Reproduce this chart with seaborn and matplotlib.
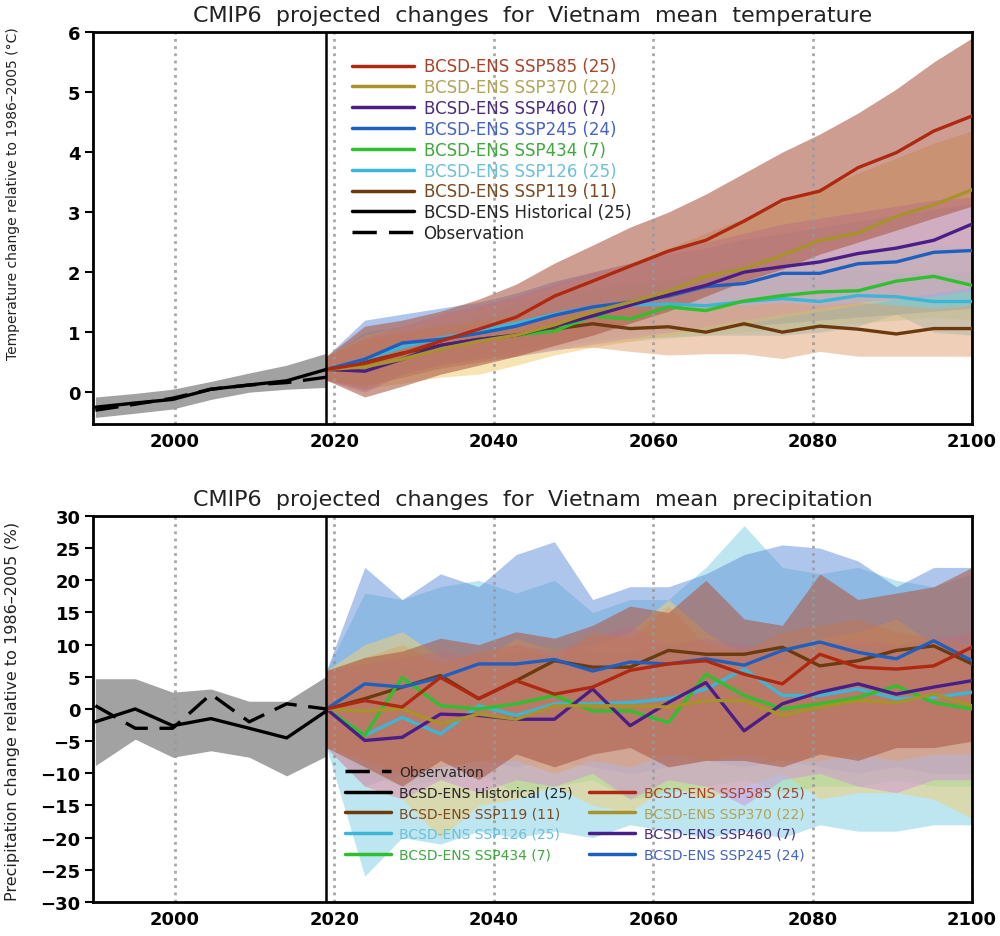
import matplotlib.lines as mlines
import matplotlib.pyplot as plt
import seaborn as sns

# --- time axes -------------------------------------------------------------
HIST_YEARS = [1990, 1995, 1999.7, 2004.5, 2009.3, 2014, 2019]
PROJ_YEARS = [2019, 2023.8, 2028.5, 2033.3, 2038.1, 2042.8, 2047.6, 2052.4, 2057.1,
              2061.9, 2066.6, 2071.4, 2076.2, 2080.9, 2085.7, 2090.5, 2095.2, 2100]
X_TICKS = [2000, 2020, 2040, 2060, 2080, 2100]
SPLIT_YEAR = 2019

SCENARIOS = ["SSP585", "SSP370", "SSP460", "SSP245", "SSP434", "SSP126", "SSP119"]
MEMBERS = {"SSP585": 25, "SSP370": 22, "SSP460": 7, "SSP245": 24,
           "SSP434": 7, "SSP126": 25, "SSP119": 11}
HIST_MEMBERS = 25

LINE_COLORS = {
    "SSP585": "#b0280f", "SSP370": "#a8922a", "SSP460": "#4a1e88", "SSP245": "#1f5fc0",
    "SSP434": "#2fbf2f", "SSP126": "#3cb6d6", "SSP119": "#6b3a0e",
}
TEXT_COLORS = {
    "SSP585": "#a8442c", "SSP370": "#b0a458", "SSP460": "#4c2c7c", "SSP245": "#4464c0",
    "SSP434": "#3fa83f", "SSP126": "#6cc0d8", "SSP119": "#7a4a22",
}
BAND_COLORS = {
    "SSP585": "#ac5c48", "SSP370": "#f0cf78", "SSP460": "#d092d8", "SSP245": "#5e8ed8",
    "SSP434": "#9ad88a", "SSP126": "#92d6e6", "SSP119": "#e0a070",
}
BAND_ALPHA = {
    "SSP585": 0.6, "SSP370": 0.55, "SSP460": 0.5, "SSP245": 0.5,
    "SSP434": 0.35, "SSP126": 0.6, "SSP119": 0.5,
}

# --- temperature (degC, relative to 1986-2005) ---------------------------
TAS_HIST = [-0.25, -0.18, -0.12, 0.05, 0.12, 0.19, 0.38]
TAS_HIST_LO = [-0.42, -0.35, -0.28, -0.12, 0.0, 0.05, 0.08]
TAS_HIST_HI = [-0.08, -0.02, 0.05, 0.18, 0.32, 0.45, 0.65]
TAS_OBS = [-0.30, -0.20, -0.10, 0.05, 0.12, 0.16, 0.25]

TAS_SSP585 = [0.38, 0.48, 0.64, 0.85, 1.05, 1.25, 1.6, 1.85, 2.1, 2.35, 2.53, 2.85, 3.2, 3.35, 3.74, 3.99, 4.35, 4.6]
TAS_SSP370 = [0.38, 0.42, 0.55, 0.72, 0.85, 0.95, 1.12, 1.34, 1.5, 1.68, 1.93, 2.06, 2.28, 2.53, 2.65, 2.93, 3.12, 3.37]
TAS_SSP460 = [0.38, 0.35, 0.55, 0.78, 0.88, 0.95, 1.1, 1.27, 1.45, 1.62, 1.78, 2.0, 2.09, 2.17, 2.31, 2.4, 2.53, 2.8]
TAS_SSP245 = [0.38, 0.55, 0.82, 0.88, 0.98, 1.1, 1.28, 1.42, 1.5, 1.6, 1.76, 1.81, 1.98, 1.98, 2.14, 2.17, 2.33, 2.36]
TAS_SSP434 = [0.38, 0.42, 0.55, 0.75, 0.88, 0.95, 1.02, 1.27, 1.22, 1.42, 1.36, 1.52, 1.61, 1.67, 1.69, 1.85, 1.93, 1.78]
TAS_SSP126 = [0.38, 0.55, 0.75, 0.9, 1.02, 1.15, 1.3, 1.42, 1.45, 1.47, 1.44, 1.51, 1.56, 1.51, 1.61, 1.59, 1.51, 1.51]
TAS_SSP119 = [0.38, 0.5, 0.65, 0.78, 0.88, 0.95, 1.05, 1.14, 1.06, 1.09, 1.0, 1.14, 1.0, 1.1, 1.05, 0.97, 1.06, 1.06]

TAS_SSP585_LO = [0.2, -0.08, 0.1, 0.3, 0.45, 0.6, 0.78, 0.95, 1.15, 1.35, 1.6, 1.85, 2.05, 2.3, 2.5, 2.7, 2.9, 3.1]
TAS_SSP585_HI = [0.6, 1.1, 1.2, 1.35, 1.55, 1.8, 2.15, 2.45, 2.75, 3.0, 3.3, 3.65, 4.0, 4.3, 4.65, 5.05, 5.5, 5.9]
TAS_SSP370_LO = [0.2, 0.05, 0.15, 0.25, 0.3, 0.45, 0.62, 0.75, 0.85, 0.95, 1.05, 1.15, 1.25, 1.35, 1.45, 1.55, 1.65, 1.75]
TAS_SSP370_HI = [0.6, 0.95, 1.1, 1.25, 1.4, 1.55, 1.75, 1.95, 2.15, 2.4, 2.65, 2.9, 3.15, 3.4, 3.65, 3.9, 4.15, 4.35]
TAS_SSP460_LO = [0.2, 0.0, 0.3, 0.45, 0.55, 0.6, 0.7, 0.8, 0.9, 1.0, 1.1, 1.2, 1.3, 1.4, 1.5, 1.55, 1.6, 1.7]
TAS_SSP460_HI = [0.6, 0.9, 1.1, 1.3, 1.45, 1.6, 1.8, 2.0, 2.15, 2.35, 2.5, 2.65, 2.8, 2.9, 3.0, 3.1, 3.2, 3.25]
TAS_SSP245_LO = [0.2, 0.05, 0.3, 0.45, 0.55, 0.65, 0.75, 0.85, 0.95, 1.0, 1.05, 1.1, 1.15, 1.2, 1.25, 1.3, 1.35, 1.4]
TAS_SSP245_HI = [0.6, 1.2, 1.3, 1.4, 1.5, 1.65, 1.85, 2.0, 2.15, 2.3, 2.4, 2.55, 2.65, 2.75, 2.85, 2.95, 3.05, 3.15]
TAS_SSP434_LO = [0.2, 0.1, 0.25, 0.4, 0.5, 0.6, 0.7, 0.8, 0.85, 0.9, 0.95, 1.0, 1.05, 1.1, 1.15, 1.2, 1.25, 1.2]
TAS_SSP434_HI = [0.6, 0.85, 1.0, 1.15, 1.3, 1.45, 1.55, 1.7, 1.8, 1.9, 2.0, 2.1, 2.2, 2.25, 2.3, 2.4, 2.45, 2.4]
TAS_SSP126_LO = [0.2, 0.15, 0.35, 0.5, 0.6, 0.7, 0.8, 0.85, 0.9, 0.92, 0.95, 0.95, 0.95, 1.0, 1.1, 1.3, 1.0, 0.95]
TAS_SSP126_HI = [0.6, 1.0, 1.1, 1.25, 1.4, 1.55, 1.65, 1.75, 1.8, 1.85, 1.9, 1.95, 2.0, 2.0, 2.05, 2.0, 2.0, 2.0]
TAS_SSP119_LO = [0.2, 0.1, 0.25, 0.4, 0.5, 0.6, 0.72, 0.75, 0.68, 0.62, 0.64, 0.64, 0.56, 0.68, 0.6, 0.6, 0.6, 0.6]
TAS_SSP119_HI = [0.6, 0.9, 1.0, 1.1, 1.2, 1.3, 1.35, 1.4, 1.45, 1.5, 1.45, 1.45, 1.5, 1.45, 1.5, 1.45, 1.4, 1.45]

# --- precipitation (%, relative to 1986-2005) -----------------------------
PR_HIST = [-2.0, 0.0, -2.6, -1.5, -3.0, -4.5, -0.3]
PR_HIST_LO = [-8.8, -4.7, -7.5, -6.5, -7.5, -10.4, -7.3]
PR_HIST_HI = [4.7, 4.7, 2.6, 3.1, 1.2, 1.2, 5.1]
PR_OBS = [0.5, -3.0, -3.0, 2.3, -2.0, 0.8, 0.0]

PR_SSP585 = [0.0, 1.3, 0.3, 4.9, 1.6, 4.4, 2.3, 3.4, 6.0, 7.0, 7.5, 5.4, 3.9, 8.5, 6.5, 6.2, 6.7, 9.6]
PR_SSP370 = [0.0, -0.3, 0.0, -2.3, -0.8, -1.6, 0.5, 0.5, 0.5, 0.3, 1.3, 1.3, -1.0, 0.3, 1.3, 1.0, 2.3, 0.5]
PR_SSP460 = [0.0, -4.9, -4.4, -0.8, -1.0, -1.6, -1.6, 3.1, -2.6, 1.0, 4.1, -3.4, 0.8, 2.6, 3.9, 2.3, 3.4, 4.4]
PR_SSP245 = [0.0, 3.9, 3.4, 4.9, 7.0, 7.0, 7.7, 5.9, 7.3, 7.0, 7.8, 6.8, 9.1, 10.4, 8.8, 7.8, 10.6, 7.5]
PR_SSP434 = [0.0, -4.1, 4.9, 0.5, 0.0, 0.8, 2.1, -0.3, -0.3, -2.1, 5.4, 2.1, 0.0, 0.8, 1.8, 3.6, 1.0, 0.0]
PR_SSP126 = [0.0, -4.1, -1.3, -3.9, 0.5, -1.0, 0.8, 0.8, 1.0, 1.6, 3.1, 6.2, 2.1, 2.1, 3.1, 1.6, 1.8, 2.6]
PR_SSP119 = [0.0, 1.6, 3.4, 5.2, 1.6, 4.4, 7.5, 6.5, 6.5, 9.1, 8.5, 8.5, 9.6, 6.7, 7.5, 9.1, 9.8, 7.0]

PR_SSP585_LO = [-6, -9, -12, -8, -11, -7, -9, -7, -6, -9, -8, -8, -9, -7, -8, -6, -6, -5]
PR_SSP585_HI = [6, 8, 9, 11, 10, 12, 11, 13, 16, 15, 20, 14, 13, 21, 17, 18, 19, 22]
PR_SSP370_LO = [-6, -12, -14, -20, -15, -14, -12, -15, -16, -12, -14, -12, -10, -14, -13, -13, -14, -17]
PR_SSP370_HI = [6, 10, 12, 8, 7, 11, 9, 10, 12, 17, 12, 8, 7, 11, 12, 14, 10, 8]
PR_SSP460_LO = [-6, -12, -14, -11, -13, -11, -12, -10, -14, -11, -12, -15, -11, -10, -12, -13, -11, -11]
PR_SSP460_HI = [6, 7, 8, 9, 8, 10, 9, 11, 13, 10, 11, 10, 9, 10, 11, 10, 11, 12]
PR_SSP245_LO = [-6, -12, -10, -9, -8, -9, -8, -9, -10, -9, -8, -9, -8, -9, -10, -9, -10, -10]
PR_SSP245_HI = [6, 22, 17, 21, 19, 24, 26, 17, 19, 19, 21, 24, 25.5, 25, 23, 19, 22, 22]
PR_SSP434_LO = [-6, -10, -12, -11, -10, -13, -12, -11, -14, -13, -12, -11, -13, -12, -12, -11, -12, -12]
PR_SSP434_HI = [6, 8, 10, 9, 8, 9, 10, 9, 9, 10, 11, 9, 10, 10, 10, 11, 10, 9]
PR_SSP126_LO = [-6, -26, -20, -21, -19, -20, -19, -20, -18, -19, -20, -19, -20, -18, -19, -19, -18, -18]
PR_SSP126_HI = [6, 18, 17, 19, 20, 18, 20, 15, 17, 17, 22, 28.5, 22, 21, 22, 20, 19, 21]
PR_SSP119_LO = [-6, -8, -10, -9, -8, -8, -10, -8, -9, -7, -8, -7, -8, -8, -7, -8, -7, -7]
PR_SSP119_HI = [6, 8, 10, 7, 9, 10, 8, 12, 11, 16, 10, 9, 12, 13, 14, 12, 11, 10]

TAS = {
    "SSP585": (TAS_SSP585, TAS_SSP585_LO, TAS_SSP585_HI),
    "SSP370": (TAS_SSP370, TAS_SSP370_LO, TAS_SSP370_HI),
    "SSP460": (TAS_SSP460, TAS_SSP460_LO, TAS_SSP460_HI),
    "SSP245": (TAS_SSP245, TAS_SSP245_LO, TAS_SSP245_HI),
    "SSP434": (TAS_SSP434, TAS_SSP434_LO, TAS_SSP434_HI),
    "SSP126": (TAS_SSP126, TAS_SSP126_LO, TAS_SSP126_HI),
    "SSP119": (TAS_SSP119, TAS_SSP119_LO, TAS_SSP119_HI),
}
PR = {
    "SSP585": (PR_SSP585, PR_SSP585_LO, PR_SSP585_HI),
    "SSP370": (PR_SSP370, PR_SSP370_LO, PR_SSP370_HI),
    "SSP460": (PR_SSP460, PR_SSP460_LO, PR_SSP460_HI),
    "SSP245": (PR_SSP245, PR_SSP245_LO, PR_SSP245_HI),
    "SSP434": (PR_SSP434, PR_SSP434_LO, PR_SSP434_HI),
    "SSP126": (PR_SSP126, PR_SSP126_LO, PR_SSP126_HI),
    "SSP119": (PR_SSP119, PR_SSP119_LO, PR_SSP119_HI),
}

BAND_ORDER = ["SSP126", "SSP245", "SSP370", "SSP434", "SSP460", "SSP119", "SSP585"]
LINE_ORDER = ["SSP119", "SSP126", "SSP434", "SSP245", "SSP460", "SSP370", "SSP585"]
OBS_DASH = (7, 3.5)


def _label(s):
    return f"BCSD-ENS {s} ({MEMBERS[s]})"


def draw_panel(ax, data, hist, hist_lo, hist_hi, obs, ylim, yticks, title):
    ax.fill_between(HIST_YEARS, hist_lo, hist_hi, color="#a2a2a2", lw=0, zorder=1)
    for s in BAND_ORDER:
        _, lo, hi = data[s]
        ax.fill_between(PROJ_YEARS, lo, hi, color=BAND_COLORS[s], alpha=BAND_ALPHA[s],
                        lw=0, zorder=1)

    for yr in X_TICKS:
        ax.axvline(yr, color="#999999", ls=(0, (1, 1.6)), lw=2.0, alpha=0.85, zorder=2)
    ax.axvline(SPLIT_YEAR, color="black", lw=1.8, zorder=5)

    for s in LINE_ORDER:
        sns.lineplot(x=PROJ_YEARS, y=data[s][0], ax=ax, color=LINE_COLORS[s],
                     lw=2.4, legend=False, zorder=4)
    sns.lineplot(x=HIST_YEARS, y=hist, ax=ax, color="black", lw=2.4, legend=False, zorder=4)
    sns.lineplot(x=HIST_YEARS, y=obs, ax=ax, color="black", lw=2.4, legend=False,
                 zorder=4).lines[-1].set_dashes(OBS_DASH)

    ax.set_xlim(1989.7, 2100)
    ax.set_ylim(*ylim)
    ax.set_xticks(X_TICKS)
    ax.set_yticks(yticks)
    ax.set_xticklabels([str(t) for t in X_TICKS], fontsize=13, fontweight="bold")
    ax.set_yticklabels([f"{t:g}".replace("-", "\u2212") for t in yticks],
                       fontsize=13, fontweight="bold")
    ax.tick_params(axis="x", length=0, pad=6, colors="black")
    ax.tick_params(axis="y", length=6, width=1.5, direction="out", pad=3, colors="black")
    for sp in ax.spines.values():
        sp.set_linewidth(2)
        sp.set_color("black")
        sp.set_visible(True)
    ax.set_xlabel("")
    ax.set_title(title, fontsize=16, pad=8, color="#222222")


sns.set_style("ticks")
plt.rcParams["font.family"] = ["DejaVu Sans"]

fig = plt.figure(figsize=(10, 9.37), dpi=100)
ax1 = fig.add_axes([0.093, 0.5464, 0.879, 0.4184])
ax2 = fig.add_axes([0.093, 0.0363, 0.879, 0.412])

draw_panel(ax1, TAS, TAS_HIST, TAS_HIST_LO, TAS_HIST_HI, TAS_OBS, (-0.53, 6),
           [0, 1, 2, 3, 4, 5, 6], "CMIP6  projected  changes  for  Vietnam  mean  temperature")
ax1.set_ylabel("Temperature change relative to 1986\u20132005 (\u00b0C)", fontsize=10, color="#222222")
ax1.yaxis.set_label_coords(-0.083, 0.59)

draw_panel(ax2, PR, PR_HIST, PR_HIST_LO, PR_HIST_HI, PR_OBS, (-30, 30),
           list(range(-30, 31, 5)), "CMIP6  projected  changes  for  Vietnam  mean  precipitation")
ax2.set_ylabel("Precipitation change relative to 1986\u20132005 (%)", fontsize=11.5, color="#222222")
ax2.yaxis.set_label_coords(-0.083, 0.495)

# top legend
top_keys = SCENARIOS
handles = [mlines.Line2D([], [], color=LINE_COLORS[s], lw=2.5) for s in top_keys]
labels = [_label(s) for s in top_keys]
handles.append(mlines.Line2D([], [], color="black", lw=2.5))
labels.append(f"BCSD-ENS Historical ({HIST_MEMBERS})")
obs_h = mlines.Line2D([], [], color="black", lw=2.5)
obs_h.set_dashes(OBS_DASH)
handles.append(obs_h)
labels.append("Observation")
leg1 = ax1.legend(handles, labels, loc="upper left", bbox_to_anchor=(0.2946, 0.935),
                  frameon=False, fontsize=12, handlelength=3.7, handletextpad=0.6,
                  labelspacing=0.17, borderpad=0, borderaxespad=0)
for txt, s in zip(leg1.get_texts(), top_keys):
    txt.set_color(TEXT_COLORS[s])
leg1.set_zorder(6)

# bottom legend: two columns, second column starts one row lower
blank = mlines.Line2D([], [], color="none")
obs_h2 = mlines.Line2D([], [], color="black", lw=2.5)
obs_h2.set_dashes(OBS_DASH)
col1 = ["SSP119", "SSP126", "SSP434"]
col2 = ["SSP585", "SSP370", "SSP460", "SSP245"]
handles2 = ([obs_h2, mlines.Line2D([], [], color="black", lw=2.5)]
            + [mlines.Line2D([], [], color=LINE_COLORS[s], lw=2.5) for s in col1]
            + [blank]
            + [mlines.Line2D([], [], color=LINE_COLORS[s], lw=2.5) for s in col2])
labels2 = (["Observation", f"BCSD-ENS Historical ({HIST_MEMBERS})"]
           + [_label(s) for s in col1] + [""] + [_label(s) for s in col2])
leg2 = ax2.legend(handles2, labels2, ncol=2, loc="upper left", bbox_to_anchor=(0.2867, 0.355),
                  frameon=False, fontsize=10, handlelength=3.3, handletextpad=0.6,
                  labelspacing=0.48, columnspacing=1.2, borderpad=0, borderaxespad=0)
for txt, s in zip(leg2.get_texts(), [None, None] + col1 + [None] + col2):
    if s is not None:
        txt.set_color(TEXT_COLORS[s])
leg2.set_zorder(6)

fig.savefig("out.png", dpi=100)
